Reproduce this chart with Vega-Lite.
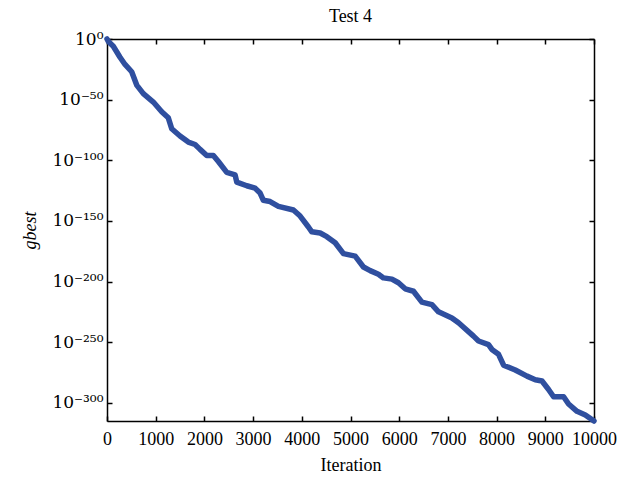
{
  "$schema": "https://vega.github.io/schema/vega-lite/v6.json",
  "autosize": "none",
  "padding": {"left": 107, "top": 39, "right": 41, "bottom": 60},
  "width": 487,
  "height": 382,
  "background": "white",
  "title": {"text": "Test 4", "font": "Liberation Serif", "fontSize": 18, "fontWeight": "normal", "color": "black", "offset": 4},
  "config": {
    "view": {"stroke": null},
    "axis": {
      "domainColor": "black", "domainWidth": 1.5, "tickColor": "black", "tickWidth": 1.5,
      "tickSize": -5, "grid": false, "labelFont": "Liberation Serif", "labelFontSize": 18,
      "labelColor": "black", "titleFont": "Liberation Serif", "titleFontSize": 18,
      "titleColor": "black", "titleFontWeight": "normal"
    }
  },
  "data": {"values": [
    {"iteration": 0, "gbest": 1},
    {"iteration": 27, "gbest": 1e-2},
    {"iteration": 129, "gbest": 1e-6},
    {"iteration": 267, "gbest": 1e-15},
    {"iteration": 370, "gbest": 1e-21},
    {"iteration": 507, "gbest": 1e-27},
    {"iteration": 610, "gbest": 1e-38},
    {"iteration": 746, "gbest": 1e-45},
    {"iteration": 951, "gbest": 1e-52},
    {"iteration": 1124, "gbest": 1e-60},
    {"iteration": 1259, "gbest": 1e-65},
    {"iteration": 1329, "gbest": 1e-74},
    {"iteration": 1500, "gbest": 1e-80},
    {"iteration": 1670, "gbest": 1e-85},
    {"iteration": 1808, "gbest": 1e-87},
    {"iteration": 1911, "gbest": 1e-91},
    {"iteration": 2048, "gbest": 1e-96},
    {"iteration": 2184, "gbest": 1e-96},
    {"iteration": 2287, "gbest": 1e-101},
    {"iteration": 2459, "gbest": 1e-110},
    {"iteration": 2630, "gbest": 1e-112},
    {"iteration": 2665, "gbest": 1e-118},
    {"iteration": 2870, "gbest": 1e-121},
    {"iteration": 3041, "gbest": 1e-123},
    {"iteration": 3144, "gbest": 1e-127},
    {"iteration": 3211, "gbest": 1e-133},
    {"iteration": 3349, "gbest": 1e-134},
    {"iteration": 3520, "gbest": 1e-138},
    {"iteration": 3828, "gbest": 1e-141},
    {"iteration": 3966, "gbest": 1e-146},
    {"iteration": 4136, "gbest": 1e-155},
    {"iteration": 4206, "gbest": 1e-159},
    {"iteration": 4377, "gbest": 1e-160},
    {"iteration": 4514, "gbest": 1e-163},
    {"iteration": 4685, "gbest": 1e-168},
    {"iteration": 4855, "gbest": 1e-177},
    {"iteration": 5096, "gbest": 1e-179},
    {"iteration": 5266, "gbest": 1e-188},
    {"iteration": 5404, "gbest": 1e-191},
    {"iteration": 5574, "gbest": 1e-194},
    {"iteration": 5677, "gbest": 1e-197},
    {"iteration": 5850, "gbest": 1e-198},
    {"iteration": 5985, "gbest": 1e-201},
    {"iteration": 6123, "gbest": 1e-206},
    {"iteration": 6293, "gbest": 1e-208},
    {"iteration": 6466, "gbest": 1e-217},
    {"iteration": 6672, "gbest": 1e-219},
    {"iteration": 6807, "gbest": 1e-225},
    {"iteration": 7082, "gbest": 1e-230},
    {"iteration": 7218, "gbest": 1e-234},
    {"iteration": 7526, "gbest": 1e-245},
    {"iteration": 7629, "gbest": 1e-249},
    {"iteration": 7834, "gbest": 1e-252},
    {"iteration": 7904, "gbest": 1e-256},
    {"iteration": 8040, "gbest": 1e-260},
    {"iteration": 8143, "gbest": 1e-269},
    {"iteration": 8383, "gbest": 1e-273},
    {"iteration": 8624, "gbest": 1e-278},
    {"iteration": 8794, "gbest": 1e-281},
    {"iteration": 8932, "gbest": 1e-282},
    {"iteration": 9067, "gbest": 1e-289},
    {"iteration": 9170, "gbest": 1e-295},
    {"iteration": 9376, "gbest": 1e-295},
    {"iteration": 9478, "gbest": 1e-301},
    {"iteration": 9651, "gbest": 1e-307},
    {"iteration": 9822, "gbest": 1e-310},
    {"iteration": 10000, "gbest": 1e-315}
  ]},
  "layer": [
    {
      "mark": {"type": "line", "color": "#2f4f9f", "strokeWidth": 5.5, "strokeCap": "round", "strokeJoin": "round"},
      "encoding": {
        "x": {"field": "iteration", "type": "quantitative",
              "scale": {"domain": [0, 10000], "nice": false, "zero": false},
              "axis": {"orient": "bottom", "values": [0,1000,2000,3000,4000,5000,6000,7000,8000,9000,10000],
                       "format": "d", "labelFlush": false, "labelPadding": 14, "title": "Iteration", "titlePadding": 8}},
        "y": {"field": "gbest", "type": "quantitative",
              "scale": {"type": "log", "domain": [1e-315, 1], "nice": false, "zero": false},
              "axis": {"orient": "left", "values": [1, 1e-50, 1e-100, 1e-150, 1e-200, 1e-250, 1e-300],
                       "labelPadding": 9, "labelFont": "DejaVu Serif", "labelFontSize": 17,
                       "labelExpr": "datum.value > 0.5 ? '10⁰' : datum.value > 1e-60 ? '10⁻⁵⁰' : datum.value > 1e-110 ? '10⁻¹⁰⁰' : datum.value > 1e-160 ? '10⁻¹⁵⁰' : datum.value > 1e-210 ? '10⁻²⁰⁰' : datum.value > 1e-260 ? '10⁻²⁵⁰' : '10⁻³⁰⁰'",
                       "title": "gbest", "titleFontStyle": "italic", "titlePadding": 12}}
      }
    },
    {
      "mark": {"type": "line", "strokeOpacity": 0},
      "encoding": {
        "x": {"field": "iteration", "type": "quantitative",
              "axis": {"orient": "top", "values": [0,1000,2000,3000,4000,5000,6000,7000,8000,9000,10000], "labels": false, "title": null}},
        "y": {"field": "gbest", "type": "quantitative",
              "axis": {"orient": "right", "values": [1, 1e-50, 1e-100, 1e-150, 1e-200, 1e-250, 1e-300], "labels": false, "title": null}}
      }
    }
  ],
  "resolve": {"axis": {"x": "independent", "y": "independent"}}
}
